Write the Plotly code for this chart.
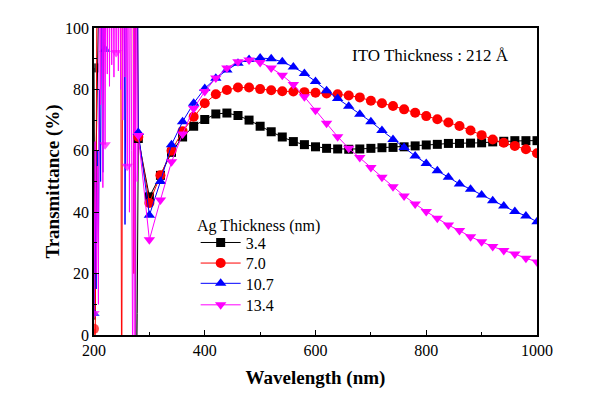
import plotly.graph_objects as go

# ---------------- data ----------------
names = ["3.4", "7.0", "10.7", "13.4"]
colors = ["#000000", "#ff0000", "#0000ff", "#ff00ff"]
symbols = ["square", "circle", "triangle-up", "triangle-down"]
msizes = [9, 10, 10, 10]

# noisy short-wavelength region (2 nm step, 200-280 nm)
wl_noise = list(range(200, 281, 2))
noise_34 = [87, 5, 60, 150, 130, 160, 140, 170, 150, 160, 140, 170, 150, 160,
            150, 170, 140, 160, 150, 170, 160, 150, 170, 140, 160, 150, 170,
            160, 150, 140, 160, 150, 170, 140, 160, 150, 130, 140, -30, 7, 64]
noise_70 = [2, -10, 60, 140, 110, 150, 130, 160, 120, 150, 140, 160, 150, 170,
            140, 160, 150, 170, 140, 160, 150, 170, 160, 150, 140, -40, 150,
            160, 140, 170, 150, 160, 140, 170, 150, 160, 20, 170, 150, 120, 64.5]
noise_107 = [7, 40, 15, 60, 30, 80, 50, 130, 53, 120, 93, 150, 140, 160, 150,
             170, 140, 160, 150, 170, 160, 150, 170, 140, 160, 150, 170, 160,
             36, 150, 160, 140, 170, 150, 160, 140, 170, 150, 160, 140, 66]
noise_134 = [7, 63, 20, 55, 10, 150, 75, 150, 48, 150, 62, 150, 85, 150, 81,
             150, 88, 150, 84, 150, 92, 150, 86, 150, 80, 150, 70, 150, 84,
             150, 55, 150, 40, 150, 60, -20, 150, -10, 150, 50, 65]
noise_series = [noise_34, noise_70, noise_107, noise_134]
noise_marker_wl = [200, 220, 240, 260]

# measured curves with markers (20 nm step, 280-1000 nm)
wl = list(range(280, 1001, 20))
t_34 = [64, 45, 52, 59.5, 64.5, 68, 70.2, 72, 72.3, 71.5, 70, 68, 66.2, 64.5,
        63, 62, 61.3, 60.8, 60.6, 60.5, 60.6, 60.8, 61, 61.1, 61.3, 61.6, 61.9,
        62.1, 62.4, 62.4, 62.5, 62.6, 62.9, 63.1, 63.3, 63.3, 63.3]
t_70 = [64.5, 43, 52, 60, 66.4, 71.1, 75.5, 78.4, 79.8, 80.6, 80.6, 80.1, 79.7,
        79.4, 79.3, 79.1, 78.9, 78.7, 78.4, 78, 77.4, 76.3, 75.5, 74.6, 73.5,
        72.4, 71.3, 70.3, 69.2, 68.1, 66.6, 65.1, 63.7, 62.6, 61.6, 60.5, 59.2]
t_107 = [66, 39, 50, 62, 69.5, 75.5, 80.3, 83.6, 86.3, 88.5, 89.7, 90.2, 90,
         89, 87.3, 85.2, 82.6, 79.6, 77, 74.5, 71.9, 69.5, 66.6, 63.7, 61.1,
         58.3, 55.9, 53.5, 51.4, 49.2, 47.5, 45.6, 43.7, 42.0, 40.2, 38.8, 36.9]
t_134 = [65, 31, 44, 56.4, 65.5, 73.8, 79.3, 83.7, 87, 89, 89.6, 88.8, 87,
         84.6, 81.6, 77.6, 73.2, 69, 64.6, 60.8, 57.8, 54.6, 51.4, 48.3, 45.3,
         42.7, 40.2, 38, 35.8, 34, 32, 30.4, 28.8, 27.5, 26.4, 25, 23.8]
series = [t_34, t_70, t_107, t_134]

x_ticks = [200, 400, 600, 800, 1000]
y_ticks = [0, 20, 40, 60, 80, 100]

FONT = "Liberation Serif"

fig = go.Figure()

# noisy part (no legend)
for nm, col, sym, ms, vals in zip(names, colors, symbols, msizes, noise_series):
    sizes = [ms if w in noise_marker_wl else 0 for w in wl_noise]
    fig.add_trace(go.Scatter(
        x=wl_noise, y=vals, mode="lines+markers", showlegend=False,
        line=dict(color=col, width=1),
        marker=dict(symbol=sym, size=sizes, color=col, line=dict(width=0)),
        hoverinfo="skip"))

# main curves, each in its own legend box so the rows can be spaced freely
legend_ids = ["legend", "legend2", "legend3", "legend4"]
legend_y = [0.301, 0.234, 0.168, 0.098]
for nm, col, sym, ms, vals, lid in zip(names, colors, symbols, msizes, series,
                                       legend_ids):
    fig.add_trace(go.Scatter(
        x=wl, y=vals, mode="lines+markers", name=nm, legend=lid,
        line=dict(color=col, width=1),
        marker=dict(symbol=sym, size=ms, color=col, line=dict(width=0))))

fig.add_annotation(x=663, y=91, xref="x", yref="y", xanchor="left",
                   yanchor="middle", showarrow=False,
                   text="ITO Thickness : 212 Å",
                   font=dict(family=FONT, size=17, color="black"))
fig.add_annotation(x=0.229, y=0.355, xref="paper", yref="paper",
                   xanchor="left", yanchor="middle", showarrow=False,
                   text="Ag Thickness (nm)",
                   font=dict(family=FONT, size=16, color="black"))

axis_common = dict(showline=True, linecolor="black", linewidth=1.5,
                   mirror=True, showgrid=False, zeroline=False,
                   ticks="inside", ticklen=5, tickwidth=1.2, tickcolor="black",
                   tickfont=dict(family=FONT, size=16, color="black"))

fig.update_xaxes(range=[200, 1000], tickvals=x_ticks,
                 minor=dict(ticks="inside", ticklen=3, dtick=100, tick0=200,
                            tickcolor="black", tickwidth=1),
                 title=dict(text="<b>Wavelength (nm)</b>", standoff=13,
                            font=dict(family=FONT, size=19, color="black")),
                 **axis_common)
fig.update_yaxes(range=[0, 100], tickvals=y_ticks,
                 minor=dict(ticks="inside", ticklen=3, dtick=10, tick0=0,
                            tickcolor="black", tickwidth=1),
                 title=dict(text="<b>Transmittance (%)</b>", standoff=0,
                            font=dict(family=FONT, size=19, color="black")),
                 **axis_common)

legend_common = dict(x=0.2295, xanchor="left", yanchor="middle",
                     bgcolor="rgba(0,0,0,0)", itemwidth=40,
                     font=dict(family=FONT, size=16, color="black"))
fig.update_layout(
    width=602, height=401,
    margin=dict(l=86, r=73, t=20, b=74),
    paper_bgcolor="white", plot_bgcolor="white",
    font=dict(family=FONT, color="black"),
    legend=dict(y=legend_y[0], **legend_common),
    legend2=dict(y=legend_y[1], **legend_common),
    legend3=dict(y=legend_y[2], **legend_common),
    legend4=dict(y=legend_y[3], **legend_common),
)

fig.write_html("out.html")
